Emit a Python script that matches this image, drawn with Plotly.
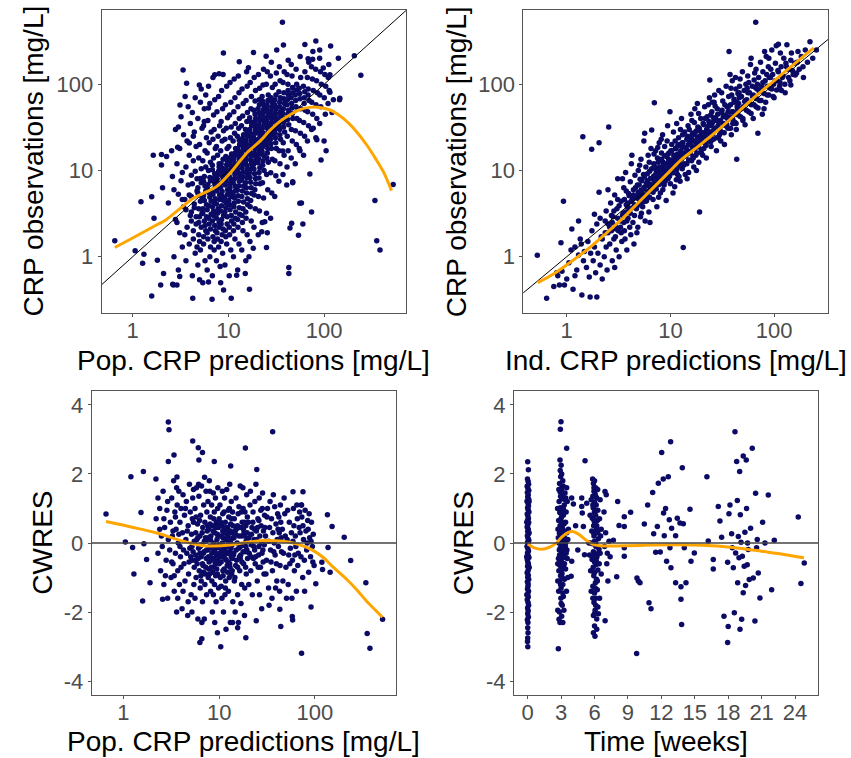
import plotly.graph_objects as go

# ---------------- data ----------------
# Panel A: population CRP predictions [mg/L] vs CRP observations [mg/L]
PRED_OBS = [
    (0.65,1.53),(1.06,1.17),(1.22,4.35),(1.31,1.07),(1.27,0.84),(1.58,0.35),(1.64,15),(1.67,2.8),(1.81,0.91),(2.0,11.6),
    (2.05,6.3),(2.1,0.64),(2.26,14.5),(2.36,4.2),(3.36,147),(3.66,103),(4.97,98),(3.53,72),(3.12,57.5),(3.0,32),
    (8.87,230),(13,183),(16.2,156),(18.3,234),(24.8,212),(32,250),(37.6,285),(36.7,525),(63,290),(82,318),
    (117,278),(141,200),(207,215),(242,127),(90,250),(125,66),(145,66),(121,47),(105,17),(93,13.2),
    (71,9.1),(47,7.4),(40.7,6.8),(58,4.2),(60,2.4),(54,1.77),(44,2.15),(74,3.3),(42.8,0.75),(42.8,0.64),
    (340,4.5),(355,1.53),(384,1.2),(527,6.9),(4.24,0.33),(6.75,0.32),(10.7,0.33),(8.9,0.41),(16.6,0.42),(5,0.54),
    (6.2,0.51),(8.2,0.77),(12.2,0.61),(15,0.64),(3.1,0.59),(2.66,0.47),(1.58,4.97),(1.96,0.47),(2.62,0.48),(2.9,0.47),
    (2.0,15.3),(2.55,17),(2.95,18.6),(3.9,20.9),(4.3,25),(6.2,53),(5.6,37),(7.2,129),(8.0,133),(68,198),
    (76,195),(98,155),(115,129),(146,69),(115,81),(84,22.7),(77,31),(56,17),(37,16.8),(25,1.28),
    (24,2.55),(25.5,1.9),(18.2,1.25),(16.4,1.0),(22.3,1.95),(45.8,2.44),(55.8,4.17),(47,7.2),
    (2.7,1.0),(3.3,1.3),(2.9,2.5),(3.1,1.9),(2.8,2.7),(3.4,3.8),(3.0,5.3),(2.7,6.0),(3.2,7.6),(3.3,9.5),
    (2.9,12),(3.1,18),(3.4,26),(2.8,30),(3.0,0.7),(3.2,42),(2.6,8.5),(3.3,4.6),
    (3.6,0.9),(3.9,1.4),(3.7,2.2),(4.0,3.0),(3.5,4.6),(3.8,6.8),(4.1,8.8),(3.6,11),(3.9,15),(3.7,22),
    (4.0,35),(3.8,55),(3.5,1.8),(4.1,2.6),(3.6,3.5),(3.9,5.2),
    (4.2,0.6),(4.5,1.1),(4.3,1.6),(4.6,2.4),(4.1,3.3),(4.4,4.1),(4.7,5.8),(4.2,7.0),(4.5,9.8),(4.3,13),
    (4.6,19),(4.4,28),(4.2,47),(4.5,70),(4.7,1.3),(4.3,2.0),(4.6,2.9),(4.4,3.7),(4.1,5.0),(4.7,8.0),
    (4.8,0.8),(5.1,1.2),(4.9,1.8),(5.2,2.2),(5.0,2.9),(4.9,3.6),(5.3,4.9),(4.8,6.3),(5.1,8.1),(5.2,10.5),
    (4.9,14),(5.0,20),(5.3,31),(4.8,40),(5.1,62),(5.2,88),(5.0,1.5),(4.9,2.5),(5.3,3.2),(5.1,4.4),(4.8,5.5),(5.2,7.2),
    (5.4,0.5),(5.7,0.9),(5.5,1.4),(5.8,2.0),(5.6,2.6),(5.4,3.2),(5.9,4.0),(5.5,5.1),(5.7,6.6),(5.6,8.5),
    (5.8,11),(5.4,13),(5.7,17),(5.9,24),(5.5,33),(5.6,52),(5.8,75),(5.5,1.7),(5.7,2.3),(5.9,2.9),(5.4,3.6),(5.6,4.5),(5.8,5.8),(5.5,7.5),
    (6.0,0.7),(6.4,1.0),(6.1,1.6),(6.5,2.1),(6.2,2.8),(6.0,3.5),(6.6,4.4),(6.3,5.5),(6.1,6.9),(6.4,8.3),
    (6.2,10),(6.5,12.5),(6.0,16),(6.3,21),(6.6,28),(6.1,38),(6.4,60),(6.2,95),(6.5,1.3),(6.0,1.9),(6.3,2.4),(6.6,3.1),(6.2,3.9),(6.4,4.9),(6.0,6.2),(6.5,7.6),
    (6.8,0.6),(7.1,1.2),(6.9,1.7),(7.2,2.3),(7.0,3.0),(6.8,3.8),(7.3,4.7),(6.9,5.9),(7.1,7.4),(7.2,9.2),
    (6.8,11.5),(7.0,14),(7.3,18),(6.9,23),(7.1,30),(7.0,44),(7.2,66),(6.9,120),(7.1,1.5),(7.3,2.0),(6.8,2.6),(7.0,3.4),(7.2,4.2),(6.9,5.3),(7.3,6.6),(7.0,8.2),(6.8,10.2),
    (7.5,0.9),(7.9,1.3),(7.6,1.9),(8.0,2.5),(7.7,3.2),(7.5,4.1),(8.1,5.2),(7.8,6.4),(7.6,7.9),(7.9,9.8),
    (8.0,12),(7.7,15),(7.5,19),(7.8,25),(8.1,33),(7.6,48),(7.9,72),(7.7,1.6),(8.0,2.2),(7.5,2.8),(7.8,3.6),(8.1,4.6),(7.6,5.8),(7.9,7.1),(7.7,8.8),(8.0,11),
    (8.3,0.5),(8.7,1.1),(8.4,1.5),(8.8,2.1),(8.5,2.7),(8.3,3.4),(8.9,4.5),(8.6,5.7),(8.4,7.1),(8.7,8.7),
    (8.5,10.8),(8.8,13.5),(8.3,17),(8.6,22),(8.9,29),(8.4,37),(8.7,52),(8.5,85),(8.8,130),(8.6,1.8),(8.4,2.4),(8.9,3.0),(8.5,3.9),(8.7,5.0),(8.3,6.3),(8.8,7.8),(8.6,9.6),(8.4,12),
    (9.2,0.8),(9.6,1.4),(9.3,2.0),(9.7,2.9),(9.4,3.7),(9.2,4.8),(9.8,6.0),(9.5,7.6),(9.3,9.4),(9.6,11.7),
    (9.4,14.5),(9.7,18),(9.2,23),(9.5,31),(9.8,41),(9.3,58),(9.6,95),(9.4,1.7),(9.7,2.4),(9.2,3.3),(9.5,4.2),(9.8,5.3),(9.3,6.8),(9.6,8.4),(9.4,10.5),(9.7,13),
    (10.2,0.6),(10.6,1.2),(10.3,1.8),(10.8,2.6),(10.4,3.5),(10.1,4.5),(10.7,5.6),(10.5,7.0),(10.2,8.6),(10.6,10.5),
    (10.4,12.8),(10.8,15.5),(10.1,19),(10.5,24),(10.7,32),(10.3,44),(10.6,62),(10.4,105),(10.2,2.2),(10.7,3.0),(10.3,4.0),(10.6,5.0),(10.4,6.3),(10.8,7.8),(10.1,9.5),(10.5,11.6),(10.3,14),
    (11.3,1.0),(11.7,1.6),(11.4,2.4),(11.9,3.3),(11.5,4.2),(11.2,5.3),(11.8,6.6),(11.6,8.1),(11.3,9.9),(11.7,12),
    (11.5,14.8),(11.9,18),(11.2,22),(11.6,27),(11.8,35),(11.4,48),(11.7,70),(11.5,115),(11.3,2.0),(11.8,2.8),(11.4,3.8),(11.6,4.8),(11.9,5.9),(11.2,7.3),(11.7,9.0),(11.5,11),(11.3,13.3),(11.8,16),
    (12.5,0.7),(12.9,1.4),(12.6,2.2),(13.1,3.1),(12.7,4.4),(12.4,5.9),(13.0,7.5),(12.8,9.3),(12.5,11.4),(12.9,13.8),
    (12.7,16.6),(13.1,20),(12.4,25),(12.8,31),(13.0,40),(12.6,55),(12.9,80),(12.7,125),(12.5,2.7),(13.0,3.7),(12.6,5.1),(12.8,6.6),(13.1,8.3),(12.4,10.3),(12.9,12.5),(12.7,15),(12.5,18),(13.0,22.5),
    (13.8,1.2),(14.2,2.0),(13.9,3.0),(14.4,4.3),(14.0,5.8),(13.7,7.7),(14.3,9.6),(14.1,11.8),(13.8,14.2),(14.2,17.2),
    (14.0,21),(14.4,26),(13.7,33),(14.1,43),(14.3,60),(13.9,88),(14.0,2.5),(14.2,3.6),(13.8,5.0),(14.4,6.6),(14.1,8.5),(13.9,10.6),(14.3,13),(13.7,15.6),(14.2,19),(14.0,23.5),
    (15.2,0.9),(15.7,1.8),(15.3,2.8),(15.9,4.0),(15.5,5.5),(15.1,7.2),(15.8,9.2),(15.6,11.4),(15.2,14),(15.7,17),
    (15.4,20.5),(15.9,25),(15.1,30),(15.6,37),(15.8,47),(15.3,65),(15.7,95),(15.5,140),(15.2,3.3),(15.8,4.7),(15.4,6.3),(15.6,8.2),(15.9,10.3),(15.1,12.6),(15.7,15.4),(15.5,18.6),(15.3,22.5),(15.8,27.5),
    (16.8,1.5),(17.3,2.6),(16.9,3.8),(17.5,5.4),(17.1,7.3),(16.7,9.5),(17.4,12),(17.2,14.8),(16.8,18),(17.3,22),
    (17.0,27),(17.5,33),(16.7,41),(17.2,52),(17.4,72),(16.9,105),(17.1,4.5),(17.3,6.3),(16.8,8.3),(17.5,10.6),(17.0,13.3),(16.9,16.3),(17.4,19.8),(17.2,24.5),(16.7,30),(17.3,36.5),
    (18.5,2.2),(19.1,3.6),(18.6,5.2),(19.3,7.0),(18.8,9.2),(18.4,11.8),(19.2,14.6),(19.0,18),(18.5,22),(19.1,27),
    (18.8,33),(19.3,40),(18.4,50),(19.0,64),(19.2,85),(18.6,120),(18.9,6.0),(19.2,8.1),(18.5,10.4),(19.0,13),(18.7,16),(19.3,19.6),(18.4,24),(19.1,29.5),(18.8,36.5),(19.0,45),
    (20.5,1.8),(21.1,3.4),(20.6,5.0),(21.4,7.0),(20.9,9.5),(20.4,12.3),(21.2,15.5),(21.0,19),(20.5,23),(21.1,28),
    (20.8,34),(21.4,42),(20.4,52),(21.0,66),(21.2,90),(20.6,130),(20.9,8.2),(21.3,10.8),(20.6,13.8),(21.0,17),(20.7,20.8),(21.4,25.5),(20.5,31),(21.2,38),(20.8,47),(21.1,58),
    (22.6,2.5),(23.3,4.8),(22.7,7.2),(23.6,10),(23.0,13),(22.5,16.5),(23.4,20.5),(23.1,25),(22.6,31),(23.2,38),
    (22.9,46),(23.6,57),(22.5,72),(23.0,98),(23.3,150),(22.8,11.5),(23.4,14.8),(22.6,18.5),(23.1,22.5),(22.9,27.5),(23.5,34),(22.7,42),(23.2,51),(22.9,63),
    (25.0,3.2),(25.8,6.0),(25.1,9.0),(26.1,12.5),(25.5,16),(24.9,20),(25.9,25),(25.6,31),(25.0,38),(25.7,47),
    (25.3,58),(26.1,75),(24.9,100),(25.5,140),(25.2,14),(25.8,18),(25.4,22.5),(26.0,28),(25.1,34.5),(25.7,42),(25.3,52),(25.9,65),
    (27.6,2.8),(28.4,5.5),(27.7,9.4),(28.8,13.5),(28.1,18),(27.5,23),(28.6,29),(28.2,36),(27.6,44),(28.4,55),
    (27.9,70),(28.8,92),(27.5,125),(28.1,180),(27.8,20.5),(28.5,26),(27.7,32.5),(28.3,40),(28.0,49),(28.6,62),
    (30.5,5.0),(31.3,8.7),(30.6,13),(31.7,18),(31.0,24),(30.4,30),(31.5,37),(31.1,46),(30.5,58),(31.4,75),
    (30.8,100),(31.7,135),(31.2,21),(30.7,27),(31.5,33),(30.9,41.5),(31.3,52),(30.6,66),
    (33.7,7.5),(34.6,12),(33.9,17),(35.1,23),(34.3,30),(33.6,38),(34.8,48),(34.4,62),(33.7,82),(34.7,110),
    (34.1,160),(34.5,26),(33.8,34),(35.0,43),(34.2,55),(34.9,70),
    (37.2,9.0),(38.2,15),(37.4,21),(38.7,28),(37.9,36),(37.1,46),(38.5,60),(38.0,80),(37.2,105),(38.3,140),
    (37.7,32),(38.4,40),(37.5,52),(38.1,68),
    (41.0,11),(42.1,17),(41.2,25),(42.7,34),(41.8,45),(40.9,58),(42.4,75),(41.9,100),(41.0,130),(42.2,190),
    (41.5,39),(42.5,50),(41.3,66),(42.0,85),
    (45.3,14),(46.5,22),(45.5,30),(47.1,40),(46.1,53),(45.2,70),(46.8,92),(46.2,125),(45.4,170),(46.6,46),(45.8,60),(46.9,80),
    (50.0,12),(51.3,20),(50.2,29),(52.0,40),(50.9,55),(49.9,75),(51.7,100),(51.0,150),(50.5,65),(51.5,86),
    (55.0,18),(56.5,27),(55.3,38),(57.2,52),(56.0,68),(54.9,90),(56.9,120),(56.2,210),(55.6,78),
    (61.0,15),(62.6,25),(61.2,36),(63.4,50),(62.0,70),(60.8,95),(63.0,140),(61.8,60),(62.8,82),
    (67.0,22),(68.8,33),(67.3,48),(69.7,65),(68.2,88),(66.9,120),(69.2,180),(68.0,75),
    (74.0,30),(76.0,45),(74.3,62),(77.0,85),(75.3,115),(73.8,160),(76.4,240),
    (82.0,24),(84.0,40),(82.3,58),(85.0,80),(83.4,110),(81.7,150),
    (90.0,35),(92.4,55),(90.4,75),(93.5,100),(91.6,140),(89.8,200),
    (100,22),(103,45),(100.5,70),(104,95),(101.8,130),
    (110,60),(113,85),(110.5,120),(112,170),
]

# Panel B: individual CRP predictions [mg/L] vs CRP observations [mg/L]
IPRED_OBS = [
    (0.52,1.04),(0.64,0.33),(0.8,0.65),(0.82,0.6),(0.85,0.47),(0.9,0.68),(0.88,1.45),(0.93,4.4),(0.95,0.47),(0.75,0.45),
    (1.0,0.55),(1.05,0.85),(1.1,1.2),(1.12,2.1),(1.15,0.42),(1.2,1.3),(1.25,0.7),(1.3,1.05),(1.35,1.6),(1.4,0.36),
    (1.43,24.7),(1.3,2.6),(1.45,0.9),(1.2,0.6),(1.38,1.4),(1.48,1.15),
    (1.55,0.75),(1.6,1.5),(1.68,0.34),(1.65,0.58),(1.74,17.6),(1.75,2.0),(1.8,0.9),(1.85,1.3),(1.9,0.65),(1.95,0.34),
    (2.0,1.1),(2.05,21),(2.1,2.8),(2.15,1.7),(2.2,0.55),(1.7,1.1),(1.95,2.4),(2.1,0.8),(2.05,5.6),(1.85,3.1),
    (2.3,1.0),(2.35,1.9),(2.4,3.4),(2.45,0.7),(2.5,2.4),(2.54,32),(2.6,1.4),(2.65,4.2),(2.7,2.0),(2.75,0.9),
    (2.8,2.9),(2.85,1.6),(2.9,5.2),(2.95,2.3),(3.0,1.2),(3.05,3.6),(3.1,8.0),(3.15,2.0),(3.2,1.0),(2.5,6.0),
    (2.9,0.75),(3.1,4.6),(2.4,1.3),(2.7,3.0),
    (3.3,2.6),(3.35,4.4),(3.4,1.5),(3.5,3.2),(3.55,6.3),(3.6,2.0),(3.7,9.5),(3.75,4.0),(3.8,1.2),(3.9,2.8),
    (3.95,5.4),(4.0,3.5),(4.1,7.4),(4.15,1.8),(4.2,12),(4.3,4.6),(4.35,2.5),(4.4,6.0),(4.5,3.0),(4.55,8.8),
    (3.45,8.0),(3.65,1.6),(4.05,2.2),(4.25,15),(4.45,1.4),(3.85,3.8),(4.6,5.0),
    (4.7,3.6),(4.8,6.8),(4.85,2.2),(4.9,10),(5.0,4.6),(5.1,7.9),(5.15,2.9),(5.2,13.5),(5.3,5.5),(5.4,3.8),
    (5.5,9.0),(5.55,22),(5.6,6.4),(5.7,2.6),(5.8,11),(5.9,4.5),(6.0,7.6),(6.1,15),(6.2,3.3),(6.3,9.8),
    (6.4,5.8),(6.5,18),(4.75,1.9),(5.25,3.2),(5.65,27),(6.05,5.0),(6.35,2.5),(5.05,11.5),(5.85,7.0),(6.25,12.5),
    (4.95,5.3),(5.45,4.3),
    (6.6,29.5),(6.7,8.0),(6.8,4.6),(6.9,12),(7.0,61),(7.1,6.5),(7.2,17),(7.3,9.5),(7.4,3.8),(7.5,14),
    (7.6,7.2),(7.8,21),(7.9,11),(8.0,5.5),(8.2,16),(8.3,8.8),(8.4,26),(8.5,12.5),(8.7,6.8),(8.8,19),
    (9.0,10),(9.1,4.5),(9.2,14.5),(9.4,33),(9.5,8.0),(6.75,5.8),(7.25,10.5),(7.7,4.9),(8.1,13),(8.6,10),
    (9.3,22),(8.9,7.5),(7.05,8.7),(7.55,18.5),(8.45,6.0),(9.35,12),(6.95,15.5),(7.85,8.3),(8.15,23),
    (9.7,16),(9.8,11),(9.9,48),(10.0,7.0),(10.2,13),(10.3,20),(10.5,9.5),(10.7,28),(10.8,15),(11.0,6.5),
    (11.2,11.5),(11.3,18),(11.5,35),(11.7,9.0),(11.9,14),(12.0,24),(12.2,12),(12.4,7.5),(12.6,17),(12.8,40),
    (13.0,10.5),(13.2,21),(13.3,1.28),(13.5,14.5),(13.7,28),(13.9,9.0),(10.1,17),(10.6,5.5),(11.1,22),(11.6,13),
    (12.1,8.5),(12.5,30),(12.9,19),(13.4,11.5),(13.8,16),(10.4,10.5),(11.4,7.8),(12.3,15.5),(13.1,26),(9.6,13.5),
    (11.8,19.5),(10.9,12.5),
    (14.2,18),(14.4,12),(14.6,25),(14.8,33),(15.0,9.5),(15.3,16),(15.5,21),(15.8,45),(16.0,13),(16.3,27),
    (16.5,18),(16.8,11),(17.0,36),(17.3,22),(17.6,15),(17.9,29),(18.2,60),(18.5,19),(18.8,12.5),(19.1,3.3),
    (19.3,25),(19.6,40),(19.9,16),(14.5,8.0),(15.2,30),(15.9,23),(16.6,14),(17.2,52),(17.8,10),(18.4,32),
    (19.0,21),(19.7,28),(14.9,20),(16.1,38),(17.5,18.5),(18.7,46),(16.9,26),
    (20.3,24),(20.7,35),(21.0,18),(21.4,55),(21.8,28),(22.2,14),(22.6,42),(23.0,22),(23.4,33),(23.8,70),
    (24.0,112),(24.3,26),(24.7,19),(25.1,48),(25.5,36),(26.0,23),(26.4,62),(26.9,30),(27.3,41),(27.8,17),
    (28.3,52),(28.8,33),(29.3,85),(29.8,26),(20.5,15),(21.6,40),(22.4,30),(23.2,58),(24.5,44),(25.8,29),
    (27.0,56),(28.0,38),(29.0,24),(22.0,20),(26.7,75),(23.6,27),(25.3,62),(28.6,45),
    (30.3,38),(30.9,28),(31.5,50),(32.0,64),(32.6,35),(33.2,20),(33.8,44),(34.5,95),(35.2,55),(35.9,31),
    (36.5,72),(36.8,240),(37.2,42),(38.0,58),(38.7,26),(39.5,110),(40.3,48),(41.1,67),(42.0,36),(42.8,88),
    (43.6,13.5),(44.5,52),(31.2,80),(33.5,58),(35.5,40),(37.6,130),(39.0,75),(41.5,45),(43.8,62),(30.6,22),
    (34.0,33),(36.0,48),(40.0,35),(42.4,120),(44.8,78),(32.3,42),(38.4,90),(43.2,30),
    (45.5,60),(46.5,95),(47.5,42),(48.5,72),(49.5,140),(50.5,55),(51.5,85),(52.5,34),(53.5,100),(54.6,66),
    (55.7,125),(56.8,48),(58.0,80),(59.2,170),(60.4,58),(61.6,95),(62.9,40),(64.2,112),(65.5,72),(66.5,525),
    (67.0,150),(68.4,88),(69.8,27),(47.0,115),(50.0,38),(53.0,65),(57.0,105),(60.0,200),(63.0,75),(67.0,55),
    (46.0,80),(55.0,90),(65.0,135),(69.0,100),
    (71,120),(72.5,65),(74,180),(76,95),(78,140),(80,52),(82,110),(84,210),(86,75),(88,160),
    (90,120),(92,90),(95,250),(97,130),(100,70),(103,175),(106,110),(109,145),(73,85),(81,240),
    (89,200),(99,100),(105,280),(77,45),(93,150),(85,130),
    (110,291),(113,95),(117,160),(120,120),(124,200),(128,80),(133,287),(137,150),(142,110),(147,230),
    (153,130),(160,128),(167,180),(175,150),(183,210),(192,120),(200,250),(222,312),(236,200),(256,250),
    (115,230),(130,175),(145,190),(170,240),(190,160),(210,180),
    # dense band along the identity line
    (2.2,1.6),(2.35,2.6),(2.5,1.9),(2.6,2.2),(2.75,2.5),(2.85,3.4),(3.0,2.1),(3.1,2.8),(3.2,3.9),(3.3,2.2),
    (3.45,3.0),(3.55,2.5),(3.6,4.6),(3.7,3.3),(3.8,2.6),(3.9,4.2),(4.0,5.1),(3.35,1.9),(2.95,1.7),(3.75,5.8),
    (4.1,3.2),(4.2,4.4),(4.3,3.7),(4.4,5.2),(4.5,4.0),(4.6,6.3),(4.7,4.8),(4.8,3.9),(4.9,5.6),(5.0,6.8),
    (5.1,4.2),(5.2,5.9),(5.3,7.6),(5.4,4.9),(5.5,6.1),(5.6,8.4),(5.7,5.2),(5.8,4.4),(5.9,6.6),(6.0,9.2),
    (6.1,5.7),(6.2,7.0),(6.3,4.9),(6.4,8.1),(6.5,6.2),(6.6,10.5),(6.7,6.9),(6.8,5.6),(6.9,8.6),(7.0,7.5),
    (7.1,11),(7.2,7.9),(7.3,6.1),(7.4,9.3),(7.5,8.0),(7.6,12.5),(7.7,9.0),(7.8,6.9),(7.9,10.2),(8.0,8.6),
    (8.2,13.5),(8.3,9.6),(8.4,7.3),(8.5,11.2),(8.6,9.0),(8.8,14.8),(8.9,10.4),(9.0,8.1),(9.2,12),(9.3,9.7),
    (9.5,15.5),(9.6,11.4),(9.8,8.6),(10.0,13),(10.1,10.8),(10.3,17),(10.5,12.4),(10.6,9.4),(10.8,14),(11.0,11.5),
    (11.2,18),(11.4,13.4),(11.5,10.2),(11.7,15.5),(11.9,12.6),(12.0,20),(12.2,14.2),(12.4,11.2),(12.6,16.5),(12.8,13.6),
    (13.0,21),(13.3,15.5),(13.6,12),(13.9,18.5),(14.1,14.8),(14.4,23),(14.7,17),(15.0,13.2),(15.3,20),(15.6,16.4),
    (15.9,25),(16.2,19),(16.5,14.5),(16.8,22),(17.1,17.8),(17.4,28),(17.7,21),(18.0,16),(18.3,24.5),(18.6,19.5),
    (19.0,31),(19.4,23),(19.8,17.5),(20.2,27),(20.6,21.5),(21.0,34),(21.5,25),(22.0,19.5),(22.5,30),(23.0,24),
    (23.5,37),(24.0,28),(24.5,21.5),(25.0,33),(25.5,26.5),
    (26,41),(27,31),(28,24),(29,37),(30,30),(31,47),(32,35),(33,27.5),(34,42),(35,34),
    (36,54),(37,40),(38,31),(39,48),(40,39),(41,62),(42,46),(43,35),(44,55),(45,44),
    (46,70),(48,52),(50,40),(52,63),(54,50),(56,80),(58,60),(60,46),
    (62,72),(64,58),(66,92),(68,68),(70,53),(72,82),(75,65),(78,105),(80,78),(83,62),
    (86,95),(89,75),(92,120),(95,88),(98,72),(102,110),(106,86),(110,140),(114,105),(118,85),
    (122,125),(127,100),(132,160),(138,120),(145,98),(150,145),(158,175),(165,135),
]

# Panel C: population CRP predictions [mg/L] vs CWRES
PRED_CWRES = [
    (0.66,0.84),(1.05,0.03),(1.2,1.92),(1.25,-0.13),(1.29,-0.9),(1.59,-1.68),(1.62,2.07),(1.53,0.88),(1.64,-0.02),(1.75,-0.48),
    (1.9,-1.15),(2.19,1.85),(2.57,-1.63),(2.95,3.5),(3.0,3.28),(2.95,2.36),(3.38,2.55),(3.63,1.91),(5.3,2.95),(6.06,2.76),
    (6.7,2.62),(6.15,2.4),(8.9,2.36),(13.2,2.23),(18.8,2.75),(24.7,2.13),(36.2,3.22),(6.3,-2.88),(6.6,-2.77),(10.4,-3.0),
    (9.6,-2.6),(15.6,-2.45),(19.0,-2.74),(72.5,-3.19),(43,-1.92),(44,-2.42),(58,-2.13),(58.5,-2.23),(91,-1.85),(102,-1.18),
    (118,-0.56),(120,-0.77),(144,-0.85),(135,0.82),(151,0.48),(137,-0.13),(202,0.17),(236,-0.51),(340,-1.15),(351,-2.62),
    (375,-3.05),(508,-2.21),(59,1.48),(75,1.48),(72.5,1.1),
    (2.2,0.7),(2.3,-0.3),(2.4,1.0),(2.45,-0.8),(2.5,0.2),(2.6,1.5),(2.65,-1.2),(2.7,0.45),(2.8,-0.5),(2.85,0.95),
    (2.9,-1.6),(2.95,0.1),(2.3,1.3),(2.55,-0.1),(2.75,-0.95),(2.9,1.2),(2.4,0.4),(2.65,0.7),
    (3.05,-0.2),(3.1,0.6),(3.15,-1.0),(3.2,1.3),(3.25,0.2),(3.3,-0.6),(3.35,1.8),(3.4,-1.4),(3.45,0.9),(3.5,-0.3),
    (3.55,0.4),(3.6,-2.0),(3.65,1.1),(3.7,-0.8),(3.75,0.0),(3.8,1.5),(3.85,-1.2),(3.9,0.6),(3.95,-0.4),(4.0,1.0),
    (3.2,-0.55),(3.5,0.75),(3.7,-1.6),(3.3,0.35),(3.9,-0.1),(3.4,-0.95),(3.6,1.6),(3.8,0.25),(4.0,-0.7),
    (4.1,-1.9),(4.15,0.3),(4.2,1.4),(4.3,-0.6),(4.35,0.8),(4.4,-1.1),(4.5,0.1),(4.55,1.2),(4.6,-0.3),(4.7,-2.1),
    (4.75,0.5),(4.8,-0.9),(4.9,1.7),(4.95,-0.15),(5.0,0.9),(5.1,-1.5),(5.15,0.25),(5.2,-0.5),(5.3,1.3),(5.35,-0.25),
    (5.4,0.6),(5.45,-1.2),(5.5,-0.7),(4.25,-0.2),(4.65,0.35),(5.05,-0.4),(5.25,0.7),(4.45,1.0),(4.85,-0.55),(5.4,1.55),
    (4.2,-1.4),(4.75,-1.7),(5.2,-2.0),(5.5,0.05),
    (5.6,1.0),(5.65,-0.35),(5.7,0.3),(5.75,-1.0),(5.8,1.6),(5.9,-0.6),(5.95,0.55),(6.0,-2.2),(6.1,-0.15),(6.15,1.35),
    (6.2,-0.8),(6.3,0.2),(6.35,-1.3),(6.4,0.8),(6.5,-0.4),(6.55,1.65),(6.6,-0.05),(6.7,-1.7),(6.75,0.45),(6.8,-0.65),
    (6.9,1.1),(6.95,-0.25),(7.0,-2.2),(7.1,0.6),(7.15,-0.9),(7.2,0.15),(7.3,1.5),(7.35,-0.45),(7.4,-1.5),(7.5,0.35),
    (5.85,0.1),(6.05,-0.45),(6.25,0.65),(6.45,-0.95),(6.65,0.3),(6.85,-0.3),(7.05,1.9),(7.25,-0.7),(7.45,0.9),(5.6,-1.6),
    (6.1,1.7),(6.6,-2.3),(7.1,-1.2),(5.75,0.75),(6.35,-0.1),(6.9,-0.85),(7.3,0.05),
    (7.6,-0.2),(7.65,1.2),(7.7,-1.0),(7.8,0.4),(7.85,-0.55),(7.9,1.8),(8.0,-0.1),(8.1,0.75),(8.15,-1.4),(8.2,0.2),
    (8.3,-0.7),(8.35,1.1),(8.4,-0.3),(8.5,-2.0),(8.55,0.5),(8.6,-0.85),(8.7,1.45),(8.75,0.0),(8.8,-0.45),(8.9,0.9),
    (8.95,-1.2),(9.0,0.3),(9.1,-0.6),(9.15,1.3),(9.2,-0.15),(9.3,-1.7),(9.35,0.6),(9.4,-0.35),(9.5,0.1),(9.6,-0.9),
    (9.65,1.0),(9.7,-0.5),(9.8,0.45),(9.85,-1.3),(9.9,-0.05),(10.0,0.7),(7.75,-0.4),(8.05,0.55),(8.45,-0.15),(8.65,0.35),
    (8.85,-0.7),(9.05,-0.25),(9.25,0.45),(9.45,-0.75),(9.75,0.2),(9.95,-0.4),(7.95,-0.9),(8.25,-0.5),(8.8,0.7),(9.55,-0.1),
    (8.0,1.5),(9.0,-2.3),(9.7,1.6),(8.4,-1.1),(9.3,-0.55),(7.7,0.15),
    (10.1,-0.3),(10.2,1.1),(10.3,-1.0),(10.4,0.2),(10.5,-0.55),(10.6,0.5),(10.7,-1.6),(10.8,0.0),(10.9,0.85),(11.0,-0.4),
    (11.1,-2.0),(11.2,0.3),(11.3,-0.75),(11.4,1.3),(11.5,-0.2),(11.6,0.6),(11.7,-1.1),(11.8,0.1),(11.9,-0.5),(12.0,1.55),
    (12.1,-0.1),(12.2,0.45),(12.3,-0.85),(12.4,0.2),(12.5,-1.4),(12.6,0.75),(12.7,-0.3),(12.8,1.0),(12.9,-0.6),(13.0,0.05),
    (13.1,-2.3),(13.2,0.55),(13.3,-0.15),(13.4,1.2),(13.5,-0.9),(13.6,0.3),(13.7,-0.45),(13.8,0.9),(13.9,-1.7),(14.0,0.15),
    (10.35,0.6),(10.65,-0.25),(10.95,-0.8),(11.25,0.9),(11.55,-0.45),(11.85,0.4),(12.15,-0.65),(12.45,0.95),(12.75,-1.0),(13.05,0.35),
    (13.35,-0.4),(13.65,-0.05),(13.95,0.5),(10.5,-1.25),(11.0,0.15),(11.5,-1.5),(12.0,-0.3),(12.5,0.0),(13.0,-0.7),(13.5,0.7),
    (10.8,1.5),(11.8,-2.5),(12.9,1.7),(13.8,-2.3),(10.2,-0.05),(11.3,0.45),(12.3,0.3),
    (14.2,-0.3),(14.4,0.7),(14.6,-1.0),(14.8,0.25),(15.0,1.3),(15.2,-0.5),(15.4,0.0),(15.6,-1.5),(15.8,0.85),(16.0,-0.15),
    (16.2,0.45),(16.4,-0.8),(16.6,1.65),(16.8,-0.35),(17.0,0.2),(17.2,-1.2),(17.4,0.6),(17.6,-0.05),(17.8,1.0),(18.0,-0.6),
    (18.2,0.3),(18.4,-2.1),(18.6,0.9),(18.8,-0.25),(19.0,0.5),(19.2,-0.9),(19.4,1.4),(19.6,0.1),(19.8,-0.45),(14.3,0.15),
    (14.9,-0.65),(15.5,0.5),(16.1,1.05),(16.7,-0.1),(17.3,-0.55),(17.9,0.4),(18.5,-1.3),(19.1,0.05),(19.7,0.75),(14.7,-2.0),
    (15.9,-2.3),(16.9,-1.75),(17.7,1.6),(18.9,-0.7),(15.1,0.4),(16.3,-0.4),(17.1,0.9),(18.3,0.2),(19.5,-0.2),
    (20.2,0.6),(20.6,-0.3),(21.0,1.1),(21.4,-0.8),(21.8,0.25),(22.2,-1.5),(22.6,0.9),(23.0,-0.1),(23.4,0.4),(23.8,-0.6),
    (24.2,1.7),(24.6,0.1),(25.0,-1.1),(25.4,0.7),(25.8,-0.35),(26.2,1.3),(26.6,0.2),(27.0,-0.7),(27.4,0.5),(27.8,-1.9),
    (28.2,1.0),(28.6,-0.2),(29.0,0.35),(29.4,-0.9),(29.8,0.8),(20.4,-1.2),(21.6,-0.05),(22.8,-0.45),(24.0,-0.4),(25.2,0.45),
    (26.4,-1.5),(27.6,0.0),(28.8,-0.55),(21.2,1.5),(23.6,1.2),(26.0,-0.1),(28.4,1.45),(22.0,0.45),(24.4,-2.25),(27.2,0.95),
    (29.6,-0.05),(25.6,-0.7),(23.2,0.1),
    (30.5,0.2),(31.2,-0.5),(32.0,1.0),(32.8,-1.3),(33.6,0.45),(34.4,-0.2),(35.2,0.7),(36.0,-0.8),(36.8,1.4),(37.6,0.0),
    (38.4,-0.35),(39.2,0.55),(40.0,-1.1),(40.8,0.85),(41.6,-0.1),(42.4,0.3),(43.2,-0.65),(44.0,0.6),(44.8,-0.25),(31.6,0.75),
    (33.0,0.05),(34.8,-0.55),(36.4,0.3),(38.0,1.05),(39.6,-0.6),(41.2,0.4),(42.8,-1.4),(44.4,0.15),(35.6,-1.6),(37.2,-0.25),
    (40.4,0.1),(43.6,1.1),(30.8,-0.9),(33.2,-1.8),(38.8,-1.3),(42.0,0.75),(34.0,1.2),
    (45.6,0.4),(47.0,-0.3),(48.4,0.85),(49.8,-0.7),(51.2,0.1),(52.6,-1.2),(54.0,0.6),(55.4,-0.15),(56.8,0.3),(58.2,-0.5),
    (59.6,1.0),(61.0,-0.8),(62.5,0.2),(64.0,-1.4),(65.5,0.7),(67.0,-0.3),(68.5,0.45),(46.3,-1.1),(49.0,0.2),(51.9,0.95),
    (54.7,-0.6),(57.5,-1.6),(60.3,0.5),(63.2,-0.1),(66.2,-0.65),(69.2,0.9),(47.7,1.3),(53.3,-0.35),(58.9,0.05),(64.7,1.1),
    (50.5,-1.6),(61.7,-0.35),
    (70,0.3),(71.5,-0.4),(73,0.75),(74.5,-1.0),(76,0.1),(77.5,-0.5),(79,0.95),(80.5,0.35),(82,-0.2),(84,0.65),
    (86,-0.85),(88,0.15),(90,-0.4),(92,0.6),(94,-0.1),(96,0.25),(98,-0.65),(72,1.1),(78,-1.4),(83,0.0),
    (87,0.85),(91,0.05),(95,-0.55),(75,0.5),(85,0.4),
    # denser centre of the cloud
    (5.2,-0.1),(5.6,-0.5),(6.0,0.15),(6.3,-0.3),(6.7,-0.6),(7.0,0.05),(7.4,-0.2),(7.8,-0.75),(8.1,0.1),(8.5,-0.45),
    (8.9,-0.2),(9.2,-0.95),(9.6,0.25),(10.0,-0.6),(10.3,-0.15),(10.7,-0.4),(11.0,-0.95),(11.4,-0.1),(11.8,-0.3),(12.1,0.25),
    (12.5,-0.55),(12.9,-0.25),(13.3,0.1),(13.7,-0.8),(14.1,-0.35),(14.6,0.35),(15.1,-0.2),(15.6,-0.7),(16.1,0.2),(16.6,-0.45),
    (17.2,0.45),(17.8,-0.25),(18.4,0.6),(19.0,-0.1),(19.6,0.3),(20.5,0.15),(21.5,-0.4),(22.5,0.6),(23.5,-0.2),(24.5,0.35),
    (26,0.65),(28,-0.3),(30,0.45),(9.4,0.5),(10.9,0.35),(7.6,0.5),(6.5,-1.1),(8.7,-1.5),(11.6,-1.3),(14.4,-1.1),
]

# Panel D: time [weeks] vs CWRES
TIME_CWRES = [
    (0.0,2.35),(0.06,2.12),(-0.02,1.85),(0.04,1.78),(0.08,1.7),(-0.05,1.64),(0.02,1.58),(0.1,1.52),(-0.03,1.46),(0.05,1.4),
    (0.0,1.33),(0.09,1.27),(-0.06,1.21),(0.03,1.15),(0.07,1.08),(-0.01,1.02),(0.04,0.96),(0.11,0.9),(-0.04,0.84),(0.02,0.78),
    (0.06,0.71),(-0.02,0.65),(0.09,0.59),(0.01,0.52),(-0.05,0.46),(0.05,0.4),(0.0,0.33),(0.08,0.27),(-0.03,0.21),(0.03,0.14),
    (0.1,0.08),(-0.01,0.02),(0.05,-0.04),(-0.06,-0.1),(0.02,-0.17),(0.07,-0.23),(-0.02,-0.29),(0.04,-0.36),(0.11,-0.42),(-0.04,-0.48),
    (0.01,-0.55),(0.06,-0.61),(-0.01,-0.67),(0.08,-0.74),(0.03,-0.8),(-0.05,-0.86),(0.05,-0.93),(0.0,-0.99),(0.09,-1.06),(-0.03,-1.12),
    (0.04,-1.19),(0.02,-1.26),(-0.02,-1.33),(0.07,-1.4),(0.0,-1.48),(0.05,-1.56),(-0.04,-1.64),(0.03,-1.72),(0.08,-1.8),(-0.01,-1.88),
    (0.04,-1.96),(0.0,-2.05),(0.06,-2.14),(-0.03,-2.22),(0.02,-2.3),(0.0,-2.45),(0.03,-2.6),(0.0,-2.75),(-0.02,-2.85),(0.01,-3.0),
    (0.12,0.3),(0.13,-0.7),(-0.08,0.6),(-0.09,-0.4),(0.12,1.2),(-0.08,-1.5),
    (2.99,3.51),(2.93,3.29),(2.75,-3.06),(3.5,2.74),(2.9,2.4),(2.92,2.1),(2.96,1.92),(2.81,-2.21),(3.05,-2.12),(2.7,-1.95),
    (2.85,-2.0),(3.1,-1.8),(3.2,-1.55),(2.78,-1.4),(3.0,-1.3),(3.15,-1.2),(2.88,-1.1),(3.3,-1.05),(2.95,-0.95),(3.08,-0.88),
    (2.8,-0.8),(3.22,-0.72),(2.9,-0.65),(3.12,-0.58),(3.0,-0.5),(2.76,-0.45),(3.35,-0.42),(2.86,-0.35),(3.05,-0.3),(3.18,-0.22),
    (2.92,-0.15),(3.02,-0.08),(2.8,0.0),(3.25,0.05),(2.97,0.12),(3.1,0.2),(2.85,0.28),(3.3,0.35),(3.03,0.42),(2.9,0.5),
    (3.15,0.58),(2.78,0.65),(3.0,0.72),(3.2,0.8),(2.88,0.88),(3.08,0.95),(2.95,1.02),(3.28,1.1),(2.82,1.2),(3.05,1.28),
    (3.12,1.38),(2.9,1.48),(3.0,1.58),(3.18,1.65),(2.86,1.72),(3.4,0.6),(3.45,0.9),(3.5,0.3),(3.55,-0.45),(3.42,1.3),
    (3.6,-1.0),(3.38,-0.1),(3.48,-1.4),(3.35,1.45),(3.6,0.1),(2.72,0.4),(2.7,-0.6),(2.68,1.0),(3.25,-1.95),(3.15,-2.3),
    (3.4,-0.75),(3.5,1.6),(3.3,0.15),(3.52,-0.2),(2.98,-1.6),(3.1,-0.4),(2.93,0.3),(3.07,0.6),(2.84,-0.2),(3.2,1.0),
    (3.55,1.2),(3.45,-0.3),(3.65,0.4),
    (2.8,1.0),(3.0,0.85),(3.1,0.45),(2.9,0.1),(3.2,-0.1),(3.0,-0.35),(2.85,-0.6),(3.1,-0.75),(2.95,-1.2),(3.15,-1.45),
    (3.0,-1.75),(2.9,-2.3),(3.3,-0.6),(3.25,0.55),(2.75,0.15),(3.35,1.25),(2.95,1.35),(3.05,1.55),(3.15,1.8),(2.8,1.55),
    (3.4,0.0),(3.2,0.25),(2.7,-1.1),(3.1,-1.0),(3.05,2.0),(3.0,2.25),
    (5.83,1.85),(5.9,1.72),(6.0,1.8),(6.1,1.6),(5.95,1.5),(6.05,1.42),(5.85,1.35),(6.2,1.3),(5.7,1.25),(6.0,1.18),
    (6.15,1.1),(5.88,1.02),(6.3,0.95),(5.98,0.88),(6.1,0.8),(5.8,0.72),(6.25,0.65),(6.02,0.58),(5.92,0.5),(6.18,0.42),
    (5.75,0.35),(6.08,0.28),(5.95,0.2),(6.35,0.12),(6.0,0.05),(5.82,-0.02),(6.12,-0.1),(6.4,-0.18),(5.9,-0.25),(6.05,-0.32),
    (6.22,-0.4),(5.78,-0.48),(6.0,-0.55),(6.15,-0.62),(5.88,-0.7),(6.3,-0.78),(6.02,-0.85),(5.93,-0.95),(6.18,-1.05),(6.08,-1.15),
    (5.85,-1.25),(6.25,-1.35),(6.0,-1.45),(6.12,-1.6),(5.95,-1.72),(6.3,-1.85),(6.05,-1.95),(5.9,-2.1),(6.2,-2.2),(6.0,-2.4),
    (5.9,-2.6),(6.04,-2.7),(6.45,0.7),(6.5,-0.3),(6.55,0.2),(6.6,-0.9),(6.5,1.25),(5.6,0.8),(5.55,-0.35),(5.5,0.0),
    (6.45,-1.6),(6.35,-2.05),(5.65,-0.8),(6.6,0.4),(6.42,-0.6),(5.7,-1.4),(6.28,1.55),
    (5.95,1.6),(6.1,1.35),(5.85,1.1),(6.05,0.95),(6.2,0.5),(5.9,0.3),(6.1,0.0),(5.8,-0.4),(6.15,-0.5),(5.95,-0.85),
    (6.25,-1.1),(5.85,-1.6),(6.1,-1.8),(6.0,-2.05),(6.2,-2.5),(6.3,0.3),(5.7,0.0),(6.05,-1.3),(5.95,0.65),(6.35,-0.3),
    (3.95,1.3),(4.1,1.13),(3.95,-0.53),(3.9,-0.96),(4.85,1.3),(4.85,1.06),(4.9,0.87),(5.15,2.38),(5.0,0.48),(5.1,-0.34),
    (5.3,1.15),(4.3,0.5),(4.5,-0.2),(6.94,1.49),(7.05,1.4),(6.9,-0.1),(7.1,-0.6),(7.2,-1.1),(6.95,-2.25),(7.0,0.3),
    (7.3,0.05),(7.15,-0.3),(6.85,0.9),(7.4,-0.4),
    (7.69,0.08),(7.99,-0.98),(8.08,1.2),(8.2,0.51),(8.67,0.48),(8.67,0.76),(8.67,-0.14),(8.67,-0.38),(9.24,0.89),(9.81,-1.01),
    (9.93,-1.1),(9.78,-3.2),(10.08,-1.15),(10.47,0.55),(10.77,1.1),(10.89,-1.73),(11.07,-1.9),(11.22,1.46),(11.31,0.27),(11.49,-0.27),
    (11.64,0.48),(11.73,1.73),(11.9,-0.26),(12.03,2.62),(12.17,1.85),(12.2,0.87),(12.26,0.21),(12.38,1.0),(12.47,-0.53),(12.62,1.92),
    (12.71,0.67),(12.77,-0.14),(12.83,2.93),(12.86,-0.72),(12.92,0.43),(13.28,0.21),(13.28,-1.15),(13.43,0.72),(13.67,0.58),(13.76,-1.63),
    (13.76,-1.27),(13.82,-2.36),(13.88,2.18),(13.97,0.56),(14.06,-0.14),(14.21,-1.15),(14.57,0.98),(14.66,-0.53),(14.96,-0.29),(16.09,1.92),
    (16.21,0.06),(16.66,-0.48),(16.66,-0.75),(17.11,1.06),(17.26,0.64),(17.41,0.17),(17.62,-2.12),(17.95,-0.56),(18.0,-2.42),(17.95,-2.88),
    (18.07,0.85),(18.16,1.1),(18.31,0.27),(18.37,-0.14),(18.46,-0.72),(18.55,-2.02),(18.61,3.22),(18.67,-0.29),(18.76,2.36),(18.82,1.23),
    (18.85,-1.15),(18.91,0.19),(18.97,-0.43),(19.03,2.07),(19.06,-2.5),(19.09,0.82),(19.15,0.02),(19.21,-2.21),(19.27,-0.38),(19.35,2.52),
    (19.35,-1.44),(19.44,-0.67),(19.5,0.31),(19.56,-1.23),(19.62,2.4),(19.65,1.0),(19.71,-0.63),(19.74,0.0),(19.8,-0.19),(19.89,-1.06),
    (20.01,0.43),(20.16,2.74),(20.25,-1.01),(20.4,-2.26),(20.46,1.44),(20.55,-0.14),(20.61,0.1),(20.7,-0.87),(20.85,-1.59),(21.09,0.6),
    (21.3,0.0),(21.6,1.39),(21.9,-1.35),(22.14,0.08),(24.29,0.75),(24.53,-1.17),(24.83,-0.58),
]

# Smoothers (orange curves)
SMOOTH_A_X = [0.65,1.0,1.6,2.26,3.2,4.3,5.8,7.5,10.4,12.7,16,21.4,27,34.6,45,56,70,84,105,124,160,201,278,353,420,507]
SMOOTH_A_Y = [1.28,1.65,2.2,2.71,3.7,4.76,5.6,6.5,9.3,12.2,16.5,21.9,29,37.2,45,50.9,54,54.3,52,48.6,40,31.3,19.9,13.2,9.5,5.84]
SMOOTH_B_X = [0.525,0.76,1.1,1.59,2.3,3.34,4.84,7.0,10.1,12.6,20,30.7,64,120,241]
SMOOTH_B_Y = [0.50,0.64,0.875,1.22,1.79,2.67,4.17,6.5,10.1,13.2,20.5,31.5,70,132,264]
SMOOTH_C_X = [0.66,1.27,2.23,3.5,4.97,6.5,8.7,13,19.4,29,43,59,81,100,122,155,214,273,350,430,506]
SMOOTH_C_Y = [0.62,0.45,0.29,0.12,0.0,-0.07,-0.09,-0.06,0.02,0.07,0.06,0.0,-0.12,-0.25,-0.42,-0.7,-1.05,-1.35,-1.7,-1.95,-2.15]
SMOOTH_D_X = [0.0,0.6,1.25,1.9,2.5,3.05,3.6,4.05,4.6,5.2,5.8,6.5,7.5,9,11,13,15,17,19,21,23,24.8]
SMOOTH_D_Y = [-0.03,-0.14,-0.18,-0.13,-0.02,0.17,0.3,0.33,0.25,0.09,-0.03,-0.08,-0.09,-0.08,-0.06,-0.05,-0.06,-0.09,-0.15,-0.24,-0.33,-0.43]

IDENTITY = [0.1, 3000]
LOG_TICKS = [1, 10, 100]
LOG_LABELS = ["1", "10", "100"]
CWRES_TICKS = [-4, -2, 0, 2, 4]
CWRES_LABELS = ["-4", "-2", "0", "2", "4"]
TIME_TICKS = [0, 3, 6, 9, 12, 15, 18, 21, 24]
TIME_LABELS = ["0", "3", "6", "9", "12", "15", "18", "21", "24"]

# ---------------- styling ----------------
W, H = 851, 758
NAVY = "#0b0b66"
ORANGE = "#FFA500"
FONT = "Liberation Sans, Arial, sans-serif"
TICK_FONT = dict(family=FONT, size=22, color="#4d4d4d")
TITLE_FONT = dict(family=FONT, size=28, color="black")


def px_x(v):
    return v / W


def px_y(v):
    return 1 - v / H


def axis(domain, **kw):
    d = dict(domain=domain, showline=True, mirror=True, linecolor="#555555", linewidth=1,
             ticks="outside", ticklen=3, tickwidth=1, tickcolor="#555555",
             tickfont=TICK_FONT, showgrid=False, zeroline=False)
    d.update(kw)
    return d


fig = go.Figure()


def scatter(points, xa, ya):
    fig.add_trace(go.Scatter(x=[p[0] for p in points], y=[p[1] for p in points], mode="markers",
                             marker=dict(color=NAVY, size=5.5, line=dict(width=0)),
                             xaxis=xa, yaxis=ya, showlegend=False, hoverinfo="skip"))


def line(xs, ys, xa, ya, color, width):
    fig.add_trace(go.Scatter(x=xs, y=ys, mode="lines",
                             line=dict(color=color, width=width, shape="spline", smoothing=0.8),
                             xaxis=xa, yaxis=ya, showlegend=False, hoverinfo="skip"))


# Panel A
scatter(PRED_OBS, "x", "y")
fig.add_trace(go.Scatter(x=IDENTITY, y=IDENTITY, mode="lines", line=dict(color="black", width=1),
                         xaxis="x", yaxis="y", showlegend=False, hoverinfo="skip"))
line(SMOOTH_A_X, SMOOTH_A_Y, "x", "y", ORANGE, 3)
# Panel B
scatter(IPRED_OBS, "x2", "y2")
fig.add_trace(go.Scatter(x=IDENTITY, y=IDENTITY, mode="lines", line=dict(color="black", width=1),
                         xaxis="x2", yaxis="y2", showlegend=False, hoverinfo="skip"))
line(SMOOTH_B_X, SMOOTH_B_Y, "x2", "y2", ORANGE, 3)
# Panel C
scatter(PRED_CWRES, "x3", "y3")
fig.add_shape(type="line", xref="x3 domain", yref="y3", x0=0, x1=1, y0=0, y1=0,
              line=dict(color="#444444", width=1.5))
line(SMOOTH_C_X, SMOOTH_C_Y, "x3", "y3", ORANGE, 3)
# Panel D
scatter(TIME_CWRES, "x4", "y4")
fig.add_shape(type="line", xref="x4 domain", yref="y4", x0=0, x1=1, y0=0, y1=0,
              line=dict(color="#444444", width=1.5))
line(SMOOTH_D_X, SMOOTH_D_Y, "x4", "y4", ORANGE, 3)

# geometry (pixels) of the four panels
A = dict(l=101.7, r=406, t=10, b=313)
B = dict(l=523.3, r=828.3, t=10, b=313)
C = dict(l=91.7, r=396, t=391, b=695)
D = dict(l=514, r=818.3, t=391, b=695)


def dx(p):
    return [px_x(p["l"]), px_x(p["r"])]


def dy(p):
    return [px_y(p["b"]), px_y(p["t"])]


XSTAND = -5
fig.update_layout(
    width=W, height=H, margin=dict(l=0, r=0, t=0, b=0),
    paper_bgcolor="white", plot_bgcolor="white", showlegend=False,
    xaxis=axis(dx(A), type="log", range=[-0.324, 2.856], tickvals=LOG_TICKS, ticktext=LOG_LABELS, anchor="y",
               ticklabelstandoff=XSTAND),
    yaxis=axis(dy(A), type="log", range=[-0.653, 2.862], tickvals=LOG_TICKS, ticktext=LOG_LABELS, anchor="x"),
    xaxis2=axis(dx(B), type="log", range=[-0.419, 2.523], tickvals=LOG_TICKS, ticktext=LOG_LABELS, anchor="y2",
                ticklabelstandoff=XSTAND),
    yaxis2=axis(dy(B), type="log", range=[-0.653, 2.862], tickvals=LOG_TICKS, ticktext=LOG_LABELS, anchor="x2"),
    xaxis3=axis(dx(C), type="log", range=[-0.33, 2.846], tickvals=LOG_TICKS, ticktext=LOG_LABELS, anchor="y3",
                ticklabelstandoff=XSTAND),
    yaxis3=axis(dy(C), range=[-4.4, 4.4], tickvals=CWRES_TICKS, ticktext=CWRES_LABELS, anchor="x3"),
    xaxis4=axis(dx(D), range=[-1.23, 26.09], tickvals=TIME_TICKS, ticktext=TIME_LABELS, anchor="y4",
                ticklabelstandoff=XSTAND),
    yaxis4=axis(dy(D), range=[-4.4, 4.4], tickvals=CWRES_TICKS, ticktext=CWRES_LABELS, anchor="x4"),
)


def title(text, x, y, angle=0):
    fig.add_annotation(text=text, x=px_x(x), y=px_y(y), xref="paper", yref="paper",
                       showarrow=False, textangle=angle, font=TITLE_FONT,
                       xanchor="center", yanchor="middle")


title("Pop. CRP predictions [mg/L]", (A["l"] + A["r"]) / 2, 360)
title("Ind. CRP predictions [mg/L]", (B["l"] + B["r"]) / 2, 360)
title("CRP observations [mg/L]", 33, (A["t"] + A["b"]) / 2, -90)
title("CRP observations [mg/L]", 456.7, (B["t"] + B["b"]) / 2, -90)
title("Pop. CRP predictions [mg/L]", (C["l"] + C["r"]) / 2, 741)
title("Time [weeks]", (D["l"] + D["r"]) / 2, 741)
title("CWRES", 41.7, (C["t"] + C["b"]) / 2, -90)
title("CWRES", 463.3, (D["t"] + D["b"]) / 2, -90)

fig.write_html("out.html")
